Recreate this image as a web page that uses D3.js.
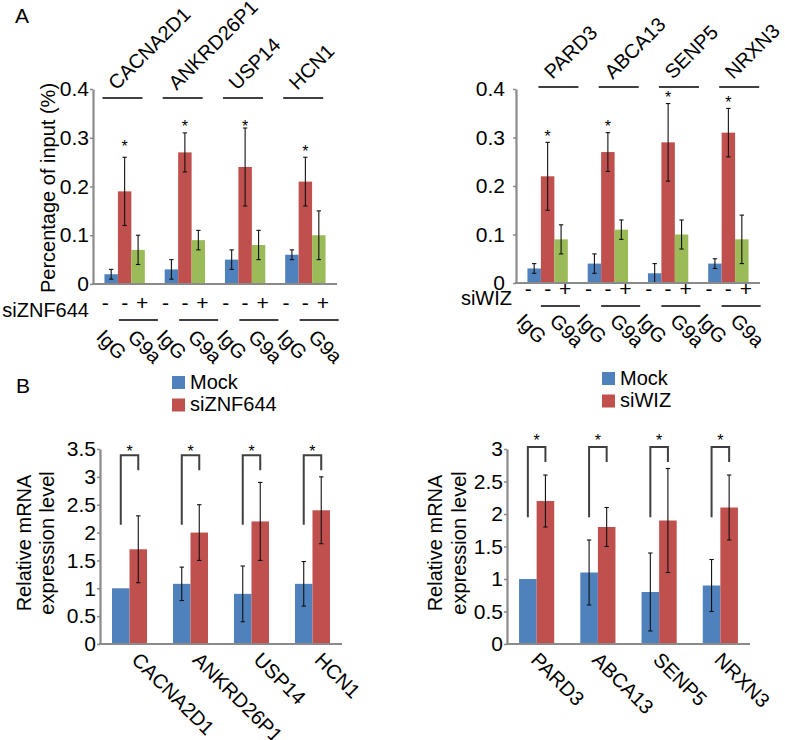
<!DOCTYPE html>
<html><head><meta charset="utf-8">
<script src="https://cdn.jsdelivr.net/npm/d3@7"></script>
<style>
body{margin:0;background:#fff}
svg{display:block}
text{font-family:"Liberation Sans",Arial,Helvetica,sans-serif;fill:#000}
</style>
</head><body><script>
// ---------------- DATA ----------------
const topLeftGenes = ["CACNA2D1", "ANKRD26P1", "USP14", "HCN1"];
const topLeftIgG = [0.02, 0.03, 0.05, 0.06];
const topLeftIgGErr = [0.01, 0.02, 0.02, 0.01];
const topLeftG9a = [0.19, 0.27, 0.24, 0.21];
const topLeftG9aErr = [0.07, 0.04, 0.08, 0.05];
const topLeftG9aSi = [0.07, 0.09, 0.08, 0.10];
const topLeftG9aSiErr = [0.03, 0.02, 0.03, 0.05];
const topLeftStars = [0.29, 0.33, 0.33, 0.28];

const topRightGenes = ["PARD3", "ABCA13", "SENP5", "NRXN3"];
const topRightIgG = [0.03, 0.04, 0.02, 0.04];
const topRightIgGErr = [0.01, 0.02, 0.02, 0.01];
const topRightG9a = [0.22, 0.27, 0.29, 0.31];
const topRightG9aErr = [0.07, 0.04, 0.08, 0.05];
const topRightG9aSi = [0.09, 0.11, 0.10, 0.09];
const topRightG9aSiErr = [0.03, 0.02, 0.03, 0.05];
const topRightStars = [0.31, 0.33, 0.39, 0.38];

const topTicks = [0, 0.1, 0.2, 0.3, 0.4];
const signLabels = ["-", "-", "+"];
const antibodyLabels = ["IgG", "G9a"];

const bottomLeftMock = [1.0, 1.08, 0.9, 1.08];
const bottomLeftMockErr = [0, 0.3, 0.5, 0.4];
const bottomLeftSi = [1.7, 2.0, 2.2, 2.4];
const bottomLeftSiErr = [0.6, 0.5, 0.7, 0.6];
const bottomLeftTicks = [0, 0.5, 1, 1.5, 2, 2.5, 3, 3.5];
const bottomLeftBracket = {top: 3.39, leftLeg: 2.14, rightLeg: 3.12, star: 3.51};

const bottomRightMock = [1.0, 1.1, 0.8, 0.9];
const bottomRightMockErr = [0, 0.5, 0.6, 0.4];
const bottomRightSi = [2.2, 1.8, 1.9, 2.1];
const bottomRightSiErr = [0.4, 0.3, 0.8, 0.5];
const bottomRightTicks = [0, 0.5, 1, 1.5, 2, 2.5, 3];
const bottomRightBracket = {top: 3.03, leftLeg: 1.95, rightLeg: 2.8, star: 3.18};

// ---------------- STYLE ----------------
const BLUE = "#4F81BD", RED = "#C0504D", GREEN = "#9BBB59";
const AXIS = "#8a8a8a", LINE = "#404040";

const svg = d3.select("body").append("svg").attr("width", 785).attr("height", 740);

function errorBars(g, items) {
  const cap = 2.2;
  items.filter(d => d.e > 0).forEach(d => {
    g.append("line").attr("x1", d.x).attr("x2", d.x).attr("y1", d.yTop).attr("y2", d.yBot)
      .attr("stroke", "#111").attr("stroke-width", 1.1);
    [d.yTop, d.yBot].forEach(yy => g.append("line")
      .attr("x1", d.x - cap).attr("x2", d.x + cap).attr("y1", yy).attr("y2", yy)
      .attr("stroke", "#111").attr("stroke-width", 1.1));
  });
}

function drawAxis(g, cfg, y, ticks) {
  const ax = g.append("g").attr("transform", `translate(${cfg.x0},0)`)
    .call(d3.axisLeft(y).tickValues(ticks).tickFormat(d => String(d))
      .tickSize(3).tickSizeOuter(0).tickPadding(cfg.tickPad));
  ax.select(".domain").attr("stroke", AXIS).attr("stroke-width", 2.2);
  ax.selectAll(".tick line").attr("stroke", AXIS).attr("stroke-width", 1.5);
  ax.selectAll(".tick text").attr("font-size", 21).attr("fill", "#000")
    .style("font-family", '"Liberation Sans",Arial,sans-serif');
  g.append("line").attr("x1", cfg.x0 - 1).attr("x2", cfg.x1).attr("y1", cfg.y0).attr("y2", cfg.y0)
    .attr("stroke", AXIS).attr("stroke-width", 2.2);
}

// ---------------- TOP PANELS ----------------
function drawTop(cfg, d) {
  const g = svg.append("g");
  const x = d3.scaleBand().domain(d.genes).range([cfg.x0, cfg.x1]).paddingInner(0.33).paddingOuter(0.19);
  const sub = d3.scaleBand().domain(["igg", "g9a", "si"]).range([0, x.bandwidth()]);
  const y = d3.scaleLinear().domain([0, 0.4]).range([cfg.y0, cfg.y1]);
  const series = [
    {k: "igg", v: d.igg, e: d.iggErr, c: BLUE},
    {k: "g9a", v: d.g9a, e: d.g9aErr, c: RED},
    {k: "si", v: d.si, e: d.siErr, c: GREEN}
  ];
  const bars = [];
  d.genes.forEach((gene, i) => series.forEach(s => bars.push({
    gene, k: s.k, v: s.v[i], e: s.e[i], c: s.c,
    x0: x(gene) + sub(s.k), w: sub.bandwidth()
  })));
  g.selectAll("rect.bar").data(bars).join("rect").attr("class", "bar")
    .attr("x", b => b.x0).attr("width", b => b.w)
    .attr("y", b => y(b.v)).attr("height", b => y(0) - y(b.v)).attr("fill", b => b.c);
  errorBars(g, bars.map(b => ({x: b.x0 + b.w / 2, e: b.e, yTop: y(b.v + b.e), yBot: y(b.v - b.e)})));
  drawAxis(g, cfg, y, topTicks);

  d.genes.forEach((gene, i) => {
    const cx = k => x(gene) + sub(k) + sub.bandwidth() / 2;
    g.append("text").attr("x", cx("g9a")).attr("y", y(d.stars[i]) + 9).attr("text-anchor", "middle")
      .attr("font-size", 16).text("*");
    const ls = x(gene) + cfg.geneLineOff;
    g.append("line").attr("x1", ls).attr("x2", ls + 40).attr("y1", cfg.geneLineY).attr("y2", cfg.geneLineY)
      .attr("stroke", LINE).attr("stroke-width", 2);
    g.append("text").attr("transform", `translate(${ls + 14},${cfg.geneLineY - 7}) rotate(-45)`)
      .attr("font-size", 20).text(gene);
    const signOff = [-6, 0, 4];
    ["igg", "g9a", "si"].forEach((k, j) => {
      g.append("text").attr("x", cx(k) + signOff[j]).attr("y", cfg.signY).attr("text-anchor", "middle")
        .attr("font-size", 21).text(signLabels[j]);
    });
    const us = x(gene) + sub("g9a") + cfg.underOff;
    g.append("line").attr("x1", us).attr("x2", us + 39).attr("y1", cfg.underY).attr("y2", cfg.underY)
      .attr("stroke", LINE).attr("stroke-width", 2);
    g.append("text").attr("transform", `translate(${cx("igg") + cfg.iggOff},${cfg.abY}) rotate(45)`)
      .attr("font-size", 20).text(antibodyLabels[0]);
    g.append("text").attr("transform", `translate(${us + 19.5 - 12},${cfg.abY}) rotate(45)`)
      .attr("font-size", 20).text(antibodyLabels[1]);
  });
  g.append("text").attr("x", cfg.rowLabelX).attr("y", cfg.rowLabelY).attr("text-anchor", "end")
    .attr("font-size", 20).text(cfg.rowLabel);
  if (cfg.yTitle) {
    g.append("text").attr("transform", `translate(${cfg.yTitleX},${cfg.yTitleY}) rotate(-90)`)
      .attr("text-anchor", "middle").attr("font-size", 20).text(cfg.yTitle);
  }
}

drawTop({x0: 93, x1: 337, y0: 284, y1: 89, tickPad: 1, geneLineY: 98, geneLineOff: -2,
  signY: 310, underY: 320, underOff: 1, abY: 338, iggOff: -16, rowLabel: "siZNF644", rowLabelX: 89, rowLabelY: 317,
  yTitle: "Percentage of input (%)", yTitleX: 55, yTitleY: 188},
  {genes: topLeftGenes, igg: topLeftIgG, iggErr: topLeftIgGErr, g9a: topLeftG9a, g9aErr: topLeftG9aErr,
   si: topLeftG9aSi, siErr: topLeftG9aSiErr, stars: topLeftStars});

drawTop({x0: 516, x1: 760, y0: 283, y1: 89, tickPad: 8, geneLineY: 87, geneLineOff: 11,
  signY: 296, underY: 306, underOff: 0, abY: 322, iggOff: -19, rowLabel: "siWIZ", rowLabelX: 512, rowLabelY: 305},
  {genes: topRightGenes, igg: topRightIgG, iggErr: topRightIgGErr, g9a: topRightG9a, g9aErr: topRightG9aErr,
   si: topRightG9aSi, siErr: topRightG9aSiErr, stars: topRightStars});

// ---------------- BOTTOM PANELS ----------------
function drawBottom(cfg, d) {
  const g = svg.append("g");
  const x = d3.scaleBand().domain(d.genes).range([cfg.x0, cfg.x1]).paddingInner(0.426).paddingOuter(0.197);
  const sub = d3.scaleBand().domain(["mock", "si"]).range([0, x.bandwidth()]);
  const y = d3.scaleLinear().domain([0, d.max]).range([cfg.y0, cfg.y1]);
  const series = [{k: "mock", v: d.mock, e: d.mockErr, c: BLUE}, {k: "si", v: d.si, e: d.siErr, c: RED}];
  const bars = [];
  d.genes.forEach((gene, i) => series.forEach(s => bars.push({
    gene, k: s.k, v: s.v[i], e: s.e[i], c: s.c, x0: x(gene) + sub(s.k), w: sub.bandwidth()
  })));
  g.selectAll("rect.bar").data(bars).join("rect").attr("class", "bar")
    .attr("x", b => b.x0).attr("width", b => b.w)
    .attr("y", b => y(b.v)).attr("height", b => y(0) - y(b.v)).attr("fill", b => b.c);
  errorBars(g, bars.map(b => ({x: b.x0 + b.w / 2, e: b.e, yTop: y(b.v + b.e), yBot: y(b.v - b.e)})));
  drawAxis(g, cfg, y, d.ticks);

  d.genes.forEach(gene => {
    const cm = x(gene) + sub("mock") + sub.bandwidth() / 2;
    const cs = x(gene) + sub("si") + sub.bandwidth() / 2;
    const br = d.bracket;
    g.append("path").attr("d", `M${cm},${y(br.leftLeg)}V${y(br.top)}H${cs}V${y(br.rightLeg)}`)
      .attr("fill", "none").attr("stroke", LINE).attr("stroke-width", 2);
    g.append("text").attr("x", (cm + cs) / 2).attr("y", y(br.star) + 9).attr("text-anchor", "middle")
      .attr("font-size", 16).text("*");
    const gc = x(gene) + x.bandwidth() / 2;
    g.append("text").attr("transform", `translate(${gc + cfg.labelOff},${cfg.y0 + 17}) rotate(45)`)
      .attr("font-size", 20).text(gene);
  });
  cfg.yTitle.forEach((t, i) => {
    g.append("text").attr("transform", `translate(${cfg.yTitleX[i]},${cfg.yTitleY}) rotate(-90)`)
      .attr("text-anchor", "middle").attr("font-size", 20).text(t);
  });
  d.legend.forEach((t, i) => {
    g.append("rect").attr("x", cfg.legX).attr("y", cfg.legY + i * 22.5).attr("width", 13).attr("height", 13)
      .attr("fill", [BLUE, RED][i]);
    g.append("text").attr("x", cfg.legX + 18).attr("y", cfg.legY + 12.5 + i * 22.5).attr("font-size", 20).text(t);
  });
}

drawBottom({x0: 100, x1: 342, y0: 644, y1: 449, tickPad: 1, labelOff: 1,
  yTitle: ["Relative mRNA", "expression level"], yTitleX: [31, 54], yTitleY: 543, legX: 172, legY: 376},
  {genes: topLeftGenes, mock: bottomLeftMock, mockErr: bottomLeftMockErr, si: bottomLeftSi, siErr: bottomLeftSiErr,
   max: 3.5, ticks: bottomLeftTicks, bracket: bottomLeftBracket, legend: ["Mock", "siZNF644"]});

drawBottom({x0: 507, x1: 750, y0: 644, y1: 449, tickPad: 1, labelOff: -7,
  yTitle: ["Relative mRNA", "expression level"], yTitleX: [442, 466], yTitleY: 543, legX: 602, legY: 372},
  {genes: topRightGenes, mock: bottomRightMock, mockErr: bottomRightMockErr, si: bottomRightSi, siErr: bottomRightSiErr,
   max: 3, ticks: bottomRightTicks, bracket: bottomRightBracket, legend: ["Mock", "siWIZ"]});

svg.append("text").attr("x", 15).attr("y", 23).attr("font-size", 21).text("A");
svg.append("text").attr("x", 16).attr("y", 393).attr("font-size", 21).text("B");
</script></body></html>
